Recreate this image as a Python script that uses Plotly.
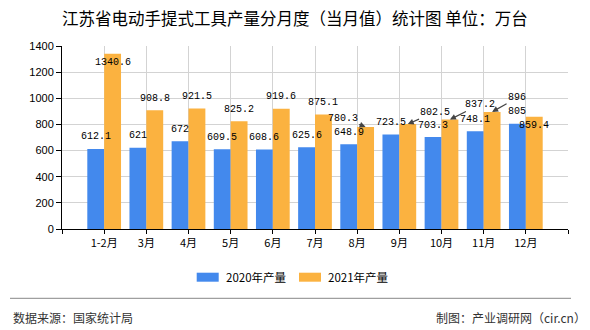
import plotly.graph_objects as go

# ---- data ----
months = ["1-2月", "3月", "4月", "5月", "6月", "7月", "8月", "9月", "10月", "11月", "12月"]
prod_2020 = [612.1, 621, 672, 609.5, 608.6, 625.6, 648.9, 723.5, 703.3, 748.1, 805]
prod_2021 = [1340.6, 908.8, 921.5, 825.2, 919.6, 875.1, 780.3, 802.5, 837.2, 896, 859.4]
series_names = ["2020年产量", "2021年产量"]
y_ticks = [0, 200, 400, 600, 800, 1000, 1200, 1400]

title_text = "江苏省电动手提式工具产量分月度（当月值）统计图 单位：万台"
source_text = "数据来源：国家统计局"
credit_text = "制图：产业调研网（cir.cn）"

# ---- style ----
W, H = 590, 330
ML, MR, MT, MB = 62, 22, 46, 101
COLORS = ["#4389ED", "#FBB240"]
BAR_OFF = [-0.2, 0.2]

# label placement tweaks (pixels): (series, index) -> dict
label_moves = {
    (1, 0): dict(yshift=-8.5),
    (1, 10): dict(yshift=-9),
    (1, 6): dict(ax=-23, ay=-9),
    (1, 7): dict(ax=27, ay=-12),
    (1, 8): dict(ax=30, ay=-15),
    (1, 9): dict(ax=25, ay=-14),
}

def px(x):
    return (x - ML) / (W - ML - MR)

def py(y):
    return (H - MB - y) / (H - MT - MB)

xs = list(range(len(months)))
fig = go.Figure()
for s, vals in enumerate([prod_2020, prod_2021]):
    fig.add_trace(go.Bar(x=xs, y=vals, name=series_names[s],
                         marker=dict(color=COLORS[s], line=dict(width=0)),
                         showlegend=False))

annotations = []
for s, vals in enumerate([prod_2020, prod_2021]):
    for i, v in enumerate(vals):
        mv = label_moves.get((s, i), {})
        base = dict(x=i + BAR_OFF[s], y=v, xref="x", yref="y", text=f"{v:g}",
                    font=dict(family="Liberation Mono", size=10, color="#000"))
        if "ax" in mv:
            base.update(showarrow=True, ax=mv["ax"], ay=mv["ay"], axref="pixel", ayref="pixel",
                        arrowhead=2, arrowsize=1, arrowwidth=1.2, arrowcolor="#444", standoff=0)
        else:
            base.update(showarrow=False, yshift=mv.get("yshift", 12), xanchor="center", yanchor="middle")
        annotations.append(base)

# title
annotations.append(dict(x=px(295), y=py(18), xref="paper", yref="paper", text=title_text,
                        showarrow=False, xanchor="center", yanchor="middle",
                        font=dict(family="Noto Sans CJK SC", size=16.5, color="#000")))
# legend (manual)
shapes = []
leg_sw = [(196.7, 218.7), (299, 321)]
leg_tx = [224, 325.7]
for s in range(2):
    x0, x1 = leg_sw[s]
    shapes.append(dict(type="rect", xref="paper", yref="paper", x0=px(x0), x1=px(x1),
                       y0=py(281.7), y1=py(272.7), fillcolor=COLORS[s], line=dict(width=0)))
    annotations.append(dict(x=px(leg_tx[s]), y=py(277.3), xref="paper", yref="paper",
                            text=series_names[s], showarrow=False, xanchor="left", yanchor="middle",
                            font=dict(family="Noto Sans CJK SC", size=11.5, color="#000")))
# footer
shapes.append(dict(type="line", xref="paper", yref="paper", x0=px(10), x1=px(571),
                   y0=py(298.3), y1=py(298.3), line=dict(color="#888", width=1)))
annotations.append(dict(x=px(11), y=py(317.3), xref="paper", yref="paper", text=source_text,
                        showarrow=False, xanchor="left", yanchor="middle",
                        font=dict(family="Noto Sans CJK SC", size=12, color="#333")))
annotations.append(dict(x=px(587.5), y=py(317.3), xref="paper", yref="paper", text=credit_text,
                        showarrow=False, xanchor="right", yanchor="middle",
                        font=dict(family="Noto Sans CJK SC", size=12, color="#333")))

fig.update_layout(
    width=W, height=H,
    margin=dict(l=ML, r=MR, t=MT, b=MB, pad=0),
    paper_bgcolor="white", plot_bgcolor="white",
    barmode="group", bargap=0.2, bargroupgap=0,
    showlegend=False,
    annotations=annotations, shapes=shapes,
    xaxis=dict(range=[-1, len(months)], tickmode="array",
               tickvals=list(range(-1, len(months) + 1)),
               ticktext=[""] + months + [""],
               showgrid=True, gridcolor="#D3D3D3", gridwidth=1,
               showline=True, linecolor="#000", linewidth=1,
               ticks="outside", ticklen=4, tickcolor="#000",
               zeroline=False,
               tickfont=dict(family="Noto Sans CJK SC", size=11, color="#000")),
    yaxis=dict(range=[0, 1400], tickmode="array", tickvals=y_ticks,
               showgrid=True, gridcolor="#D3D3D3", gridwidth=1,
               showline=True, linecolor="#000", linewidth=1,
               ticks="outside", ticklen=5, tickcolor="#000",
               zeroline=False,
               tickfont=dict(family="Liberation Sans", size=11, color="#000")),
)

fig.write_html("out.html")
